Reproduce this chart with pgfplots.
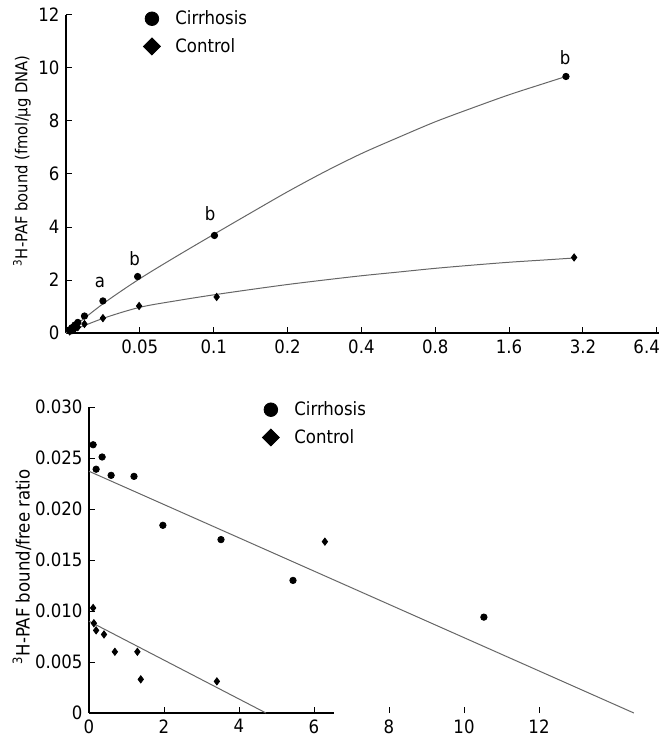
\documentclass[border=0pt]{standalone}
\usepackage{pgfplots}
\pgfplotsset{compat=1.18}
\usepackage{fontspec}
\setmainfont{DejaVu Sans Condensed}
\begin{document}
\fontsize{9.2pt}{11pt}\selectfont
\begin{tikzpicture}
\path[use as bounding box] (0pt,0pt) rectangle (333pt,-374pt);
\pgfplotsset{
  myaxis/.style={
    scale only axis, anchor=south west,
    axis x line*=bottom, axis y line*=left,
    axis line style={-, line width=0.6pt, black},
    tick align=inside, major tick length=3pt,
    tick style={black, line width=0.5pt},
    clip=false, scaled y ticks=false, scaled x ticks=false,
    tick label style={font=\fontsize{9.2pt}{11pt}\selectfont},
    label style={font=\fontsize{9.2pt}{11pt}\selectfont},
    legend style={draw=none, fill=none, font=\fontsize{9.2pt}{11pt}\selectfont, row sep=1.5pt, anchor=north west,
      /tikz/every odd column/.append style={column sep=5.5pt}},
    legend cell align=left,
  }
}
\begin{axis}[myaxis,
  at={(33pt,-166.5pt)}, width=296.5pt, height=159pt,
  xmin=0, xmax=8.03, ymin=0, ymax=12,
  xtick={1,2,3,4,5,6,7,8}, xticklabels={0.05,0.1,0.2,0.4,0.8,1.6,3.2,\hspace*{3pt}\makebox[0pt][r]{6.4}},
  ytick={0,2,4,6,8,10,12}, yticklabels={0,2,4,6,8,10,12},
  ylabel={\textsuperscript{3}H-PAF bound (fmol/μg DNA)},
  ylabel style={at={(axis description cs:-0.0742,0.541)}, anchor=center, font=\fontsize{8.2pt}{10pt}\selectfont},
  legend style={at={(axis description cs:0.1198,1.041)}},
]
\addlegendimage{only marks, mark=*, mark size=3.4pt, black}
\addlegendentry{Cirrhosis}
\addlegendimage{only marks, mark=square*, mark size=3pt, mark options={rotate=45}, black}
\addlegendentry{Control}
% fitted curves (x = tick index position)
\addplot[black!60, line width=0.5pt, smooth, forget plot] coordinates {
(0,0) (0.5,1.1) (1,2.05) (1.5,2.9) (2,3.72) (2.5,4.53) (3,5.33) (3.5,6.08) (4,6.77) (4.5,7.38) (5,7.97) (5.5,8.49) (6,8.99) (6.5,9.44) (6.77,9.68)};
\addplot[black!60, line width=0.5pt, smooth, forget plot] coordinates {
(0,0) (0.5,0.55) (1,0.97) (1.5,1.22) (2,1.44) (2.5,1.64) (3,1.83) (3.5,2.0) (4,2.16) (4.5,2.3) (5,2.44) (5.5,2.56) (6,2.67) (6.5,2.76) (6.88,2.83)};
% data
\addplot[only marks, mark=*, mark size=1.6pt, black, forget plot] coordinates {
(0.05,0.12) (0.08,0.2) (0.12,0.3) (0.16,0.4) (0.25,0.64) (0.5,1.21) (0.97,2.13) (2.01,3.68) (6.77,9.68)};
\addplot[only marks, mark=diamond*, mark size=1.8pt, black, forget plot] coordinates {
(0.05,0.06) (0.08,0.1) (0.12,0.16) (0.16,0.22) (0.25,0.34) (0.5,0.56) (0.99,1.02) (2.04,1.36) (6.88,2.85)};
\node at (axis cs:0.46,1.9) {a};
\node at (axis cs:0.93,2.79) {b};
\node at (axis cs:1.95,4.49) {b};
\node at (axis cs:6.76,10.38) {b};
\end{axis}
\begin{axis}[myaxis,
  at={(44.5pt,-356.5pt)}, width=273.75pt, height=153pt,
  xmin=0, xmax=14.6, ymin=0, ymax=0.030,
  xtick={0,2,4,6,8,10,12}, xticklabels={0,2,4,6,8,10,12},
  ytick={0,0.005,0.010,0.015,0.020,0.025,0.030},
  yticklabels={0,0.005,0.010,0.015,0.020,0.025,0.030},
  x axis line style={draw=none},
  ylabel={\textsuperscript{3}H-PAF bound/free ratio},
  ylabel style={at={(axis description cs:-0.1224,0.477)}, anchor=center},
  legend style={at={(axis description cs:0.305,1.046)}},
]
\addlegendimage{only marks, mark=*, mark size=3.4pt, black}
\addlegendentry{Cirrhosis}
\addlegendimage{only marks, mark=square*, mark size=3pt, mark options={rotate=45}, black}
\addlegendentry{Control}
\draw[line width=0.6pt, black] (axis cs:0,0) -- (axis cs:6.52,0);
\addplot[black!60, line width=0.5pt, forget plot] coordinates {(0,0.0237) (14.53,0)};
\addplot[black!60, line width=0.5pt, forget plot] coordinates {(0,0.0090) (4.72,0)};
\addplot[only marks, mark=*, mark size=1.6pt, black, forget plot] coordinates {
(0.11,0.0263) (0.35,0.0251) (0.19,0.0239) (0.59,0.0233) (1.2,0.0232) (1.97,0.0184) (3.52,0.0170) (5.44,0.0130) (10.53,0.0094)};
\addplot[only marks, mark=diamond*, mark size=1.8pt, black, forget plot] coordinates {
(0.11,0.0103) (0.13,0.0088) (0.19,0.0081) (0.4,0.0077) (0.69,0.0060) (1.29,0.0060) (1.38,0.0033) (3.41,0.0031) (6.29,0.0168)};
\end{axis}
\end{tikzpicture}
\end{document}
